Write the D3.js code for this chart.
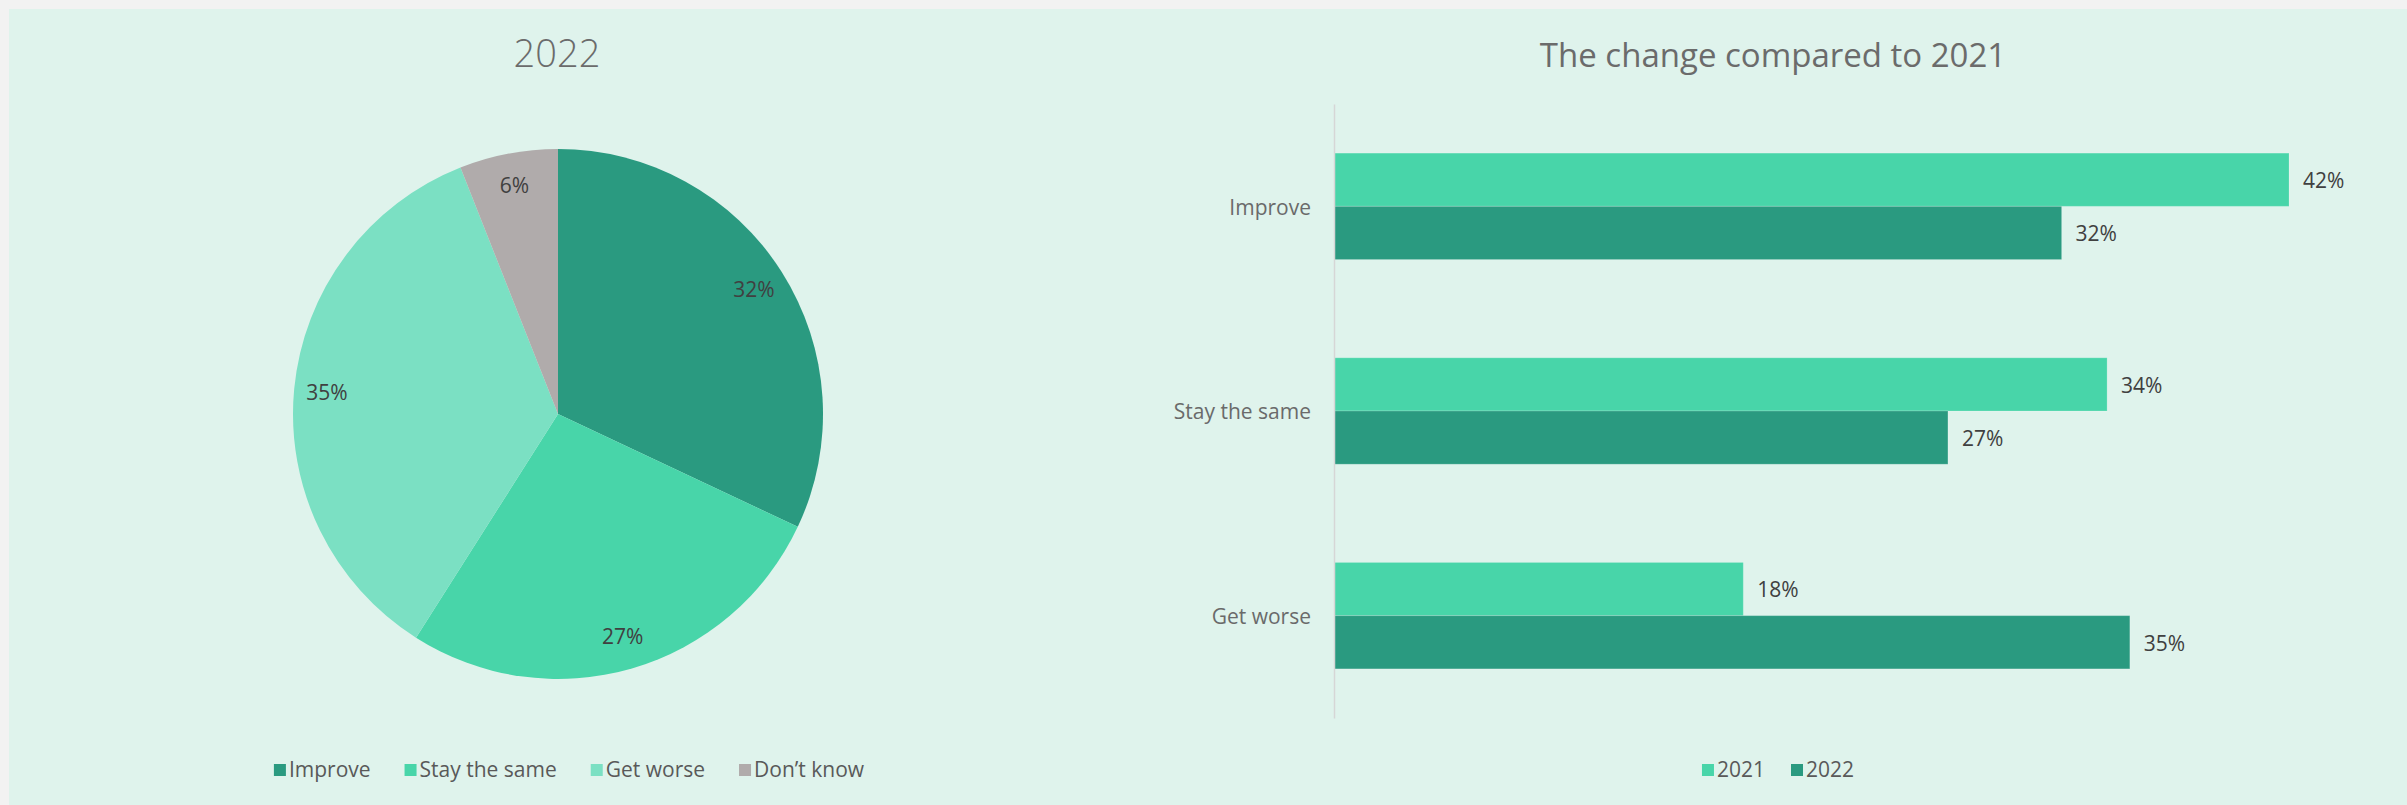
<!DOCTYPE html>
<html>
<head>
<meta charset="utf-8">
<title>2022 outlook</title>
<script src="https://cdn.jsdelivr.net/npm/d3@7"></script>
<style>
	html, body { margin: 0; padding: 0; background: #f2f2f2; }
	svg { display: block; }
</style>
</head>
<body>
<div id="chart"></div>
<script>
// Pie: answers in 2022
var pieCategories = [ 'Improve', 'Stay the same', 'Get worse', 'Don’t know' ];
var pieValues     = [ 32, 27, 35, 6 ];

// Bars: change compared to 2021
var barCategories = [ 'Improve', 'Stay the same', 'Get worse' ];
var barSeries     = [ '2021', '2022' ];
var values2021    = [ 42, 34, 18 ];
var values2022    = [ 32, 27, 35 ];

( function () {
	'use strict';

	var W = 2407, H = 805;
	var FONT = "'Open Sans', 'Noto Sans', sans-serif";

	var COLORS = {
		page:    '#f2f2f2',
		panel:   '#dff3ec',
		slices:  [ '#2a9a80', '#48d5a9', '#7be0c3', '#b0abab' ],
		series:  [ '#48d5a9', '#2a9a80' ],
		axis:    '#d6d6d6',
		title:   '#6b6b6b',
		label:   '#404040',
		catText: '#6a6a6a',
		legend:  '#595959'
	};

	var svg = d3.select( '#chart' ).append( 'svg' )
		.attr( 'width', W )
		.attr( 'height', H )
		.style( 'font-family', FONT );

	svg.append( 'rect' ).attr( 'width', W ).attr( 'height', H ).attr( 'fill', COLORS.page );
	svg.append( 'rect' ).attr( 'x', 9 ).attr( 'y', 9 ).attr( 'width', W - 9 ).attr( 'height', H - 9 ).attr( 'fill', COLORS.panel );

	// ─── Legend helper: centred row of square + label ─────────────────────
	function legend( cx, cy, labels, colors, fontSize, gap ) {
		var lg = svg.append( 'g' );
		var items = lg.selectAll( 'g' ).data( labels ).join( 'g' );
		items.append( 'rect' )
			.attr( 'y', -6 )
			.attr( 'width', 12 )
			.attr( 'height', 12 )
			.attr( 'fill', function ( d, i ) { return colors[ i ]; } );
		items.append( 'text' )
			.attr( 'x', 15 )
			.attr( 'dy', '0.35em' )
			.attr( 'fill', COLORS.legend )
			.style( 'font-size', fontSize + 'px' )
			.text( function ( d ) { return d; } );
		var x = 0;
		items.each( function () {
			var g = d3.select( this );
			var w = 15 + g.select( 'text' ).node().getComputedTextLength();
			g.attr( 'transform', 'translate(' + x + ',0)' );
			x += w + gap;
		} );
		var total = x - gap;
		lg.attr( 'transform', 'translate(' + ( cx - total / 2 ) + ',' + cy + ')' );
	}

	// ─── 1. Pie ───────────────────────────────────────────────────────────
	function renderPie() {
		var cx = 558, cy = 414, r = 265;

		svg.append( 'text' )
			.attr( 'x', 557 )
			.attr( 'y', 67 )
			.attr( 'text-anchor', 'middle' )
			.attr( 'fill', COLORS.title )
			.style( 'font-size', '38px' )
			.style( 'font-weight', 300 )
			.text( '2022' );

		var pie = d3.pie().sort( null ).value( function ( d ) { return d; } );
		var arcs = pie( pieValues );
		var arc = d3.arc().innerRadius( 0 ).outerRadius( r );
		var labelArc = d3.arc().innerRadius( 232 ).outerRadius( 232 );

		var g = svg.append( 'g' ).attr( 'transform', 'translate(' + cx + ',' + cy + ')' );

		g.selectAll( 'path' )
			.data( arcs )
			.join( 'path' )
			.attr( 'd', arc )
			.attr( 'fill', function ( d, i ) { return COLORS.slices[ i ]; } );

		g.selectAll( 'text' )
			.data( arcs )
			.join( 'text' )
			.attr( 'transform', function ( d ) { return 'translate(' + labelArc.centroid( d ) + ')'; } )
			.attr( 'text-anchor', 'middle' )
			.attr( 'dy', '0.35em' )
			.attr( 'fill', COLORS.label )
			.style( 'font-size', '21px' )
			.text( function ( d ) { return d.data + '%'; } );

		legend( 569, 770, pieCategories, COLORS.slices, 21, 34 );
	}

	// ─── 2. Grouped horizontal bars ───────────────────────────────────────
	function renderBars() {
		var left = 1334, top = 104, bottom = 718;

		svg.append( 'text' )
			.attr( 'x', 1773 )
			.attr( 'y', 67 )
			.attr( 'text-anchor', 'middle' )
			.attr( 'fill', COLORS.title )
			.style( 'font-size', '33px' )
			.text( 'The change compared to 2021' );

		var y = d3.scaleBand()
			.domain( barCategories )
			.range( [ top, bottom ] )
			.paddingInner( 0.48 )
			.paddingOuter( 0.24 );

		var ys = d3.scaleBand()
			.domain( barSeries )
			.range( [ 0, y.bandwidth() ] )
			.padding( 0 );

		var x = d3.scaleLinear()
			.domain( [ 0, 42 ] )
			.range( [ left, 2289 ] );

		var rows = barCategories.map( function ( c, i ) {
			return { cat: c, vals: [ values2021[ i ], values2022[ i ] ] };
		} );

		var groups = svg.append( 'g' ).selectAll( 'g' )
			.data( rows )
			.join( 'g' )
			.attr( 'transform', function ( d ) { return 'translate(0,' + y( d.cat ) + ')'; } );

		var cells = groups.selectAll( 'g' )
			.data( function ( d ) {
				return barSeries.map( function ( s, j ) { return { series: s, idx: j, value: d.vals[ j ] }; } );
			} )
			.join( 'g' );

		cells.append( 'rect' )
			.attr( 'x', x( 0 ) )
			.attr( 'y', function ( d ) { return ys( d.series ); } )
			.attr( 'width', function ( d ) { return x( d.value ) - x( 0 ); } )
			.attr( 'height', ys.bandwidth() )
			.attr( 'fill', function ( d ) { return COLORS.series[ d.idx ]; } )
			.attr( 'stroke', 'rgba(255,255,255,0.18)' )
			.attr( 'stroke-width', 1 );

		cells.append( 'text' )
			.attr( 'x', function ( d ) { return x( d.value ) + 14; } )
			.attr( 'y', function ( d ) { return ys( d.series ) + ys.bandwidth() / 2 + 1; } )
			.attr( 'dy', '0.35em' )
			.attr( 'fill', COLORS.label )
			.style( 'font-size', '21px' )
			.text( function ( d ) { return d.value + '%'; } );

		// Category axis.
		svg.append( 'g' )
			.attr( 'transform', 'translate(' + left + ',0)' )
			.call( d3.axisLeft( y ).tickSize( 0 ).tickPadding( 23 ) )
			.call( function ( s ) {
				s.attr( 'font-family', null ).attr( 'font-size', null );
				s.select( '.domain' ).attr( 'stroke', COLORS.axis ).attr( 'stroke-width', 1.5 );
				s.selectAll( 'text' )
					.attr( 'fill', COLORS.catText )
					.attr( 'dy', '0.4em' )
					.style( 'font-size', '21px' );
			} );

		legend( 1778, 770, barSeries, COLORS.series, 21, 26 );
	}

	try { renderPie();  } catch ( e ) { console.error( 'pie chart:', e ); }
	try { renderBars(); } catch ( e ) { console.error( 'bar chart:', e ); }
} )();
</script>
</body>
</html>
